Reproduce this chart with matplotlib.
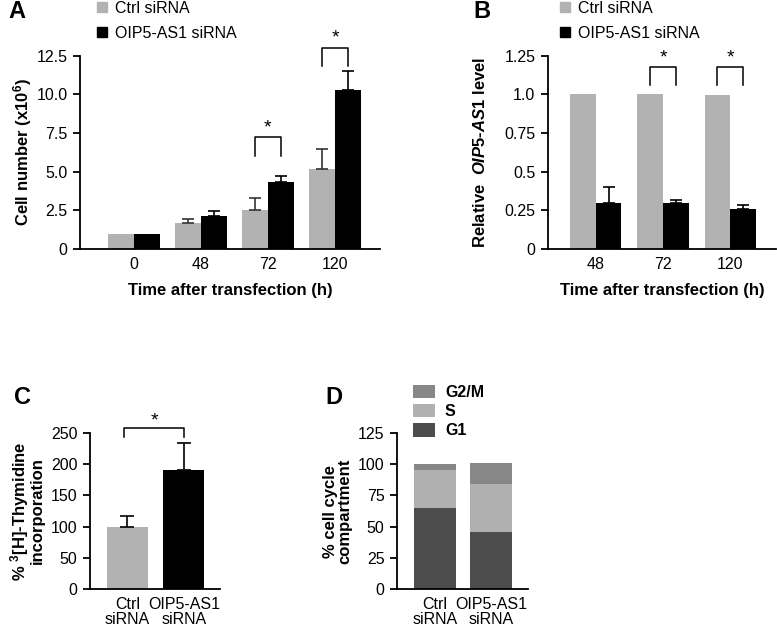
import numpy as np
import matplotlib
matplotlib.use('Agg')
import matplotlib.pyplot as plt
from matplotlib.patches import Patch

plt.rcParams['font.family'] = ['Liberation Sans', 'DejaVu Sans']
plt.rcParams['font.size'] = 11
plt.rcParams['mathtext.fontset'] = 'custom'
plt.rcParams['mathtext.rm'] = 'Liberation Sans'
plt.rcParams['mathtext.bf'] = 'Liberation Sans:bold'
plt.rcParams['mathtext.it'] = 'Liberation Sans:italic'
plt.rcParams['mathtext.bfit'] = 'Liberation Sans:bold:italic'

# ---- data ----
a_times = ['0', '48', '72', '120']
a_ctrl = [1.0, 1.65, 2.5, 5.2]
a_ctrl_err = [0.0, 0.3, 0.8, 1.25]
a_oip = [1.0, 2.15, 4.35, 10.25]
a_oip_err = [0.0, 0.3, 0.4, 1.25]

b_times = ['48', '72', '120']
b_ctrl = [1.0, 1.0, 0.995]
b_oip = [0.30, 0.30, 0.26]
b_oip_err = [0.10, 0.015, 0.025]

c_groups = ['Ctrl\nsiRNA', 'OIP5-AS1\nsiRNA']
c_values = [100, 191]
c_err = [17, 43]

d_groups = ['Ctrl\nsiRNA', 'OIP5-AS1\nsiRNA']
d_g1 = [65, 45.5]
d_s = [30, 39]
d_g2m = [5, 16.5]

GREY = '#b2b2b2'
W, H = 777, 626


def rect(l, t, r, b):
    return [l / W, 1 - b / H, (r - l) / W, (b - t) / H]


def style(ax):
    ax.spines['top'].set_visible(False)
    ax.spines['right'].set_visible(False)
    ax.spines['left'].set_linewidth(1.3)
    ax.spines['bottom'].set_linewidth(1.3)
    ax.tick_params(axis='y', direction='out', length=5, width=1.3, labelsize=11.5, pad=4)
    ax.tick_params(axis='x', length=0, labelsize=11.5, pad=6)


def up_err(ax, x, y, err, color, cap=4):
    x, y, err = np.asarray(x), np.asarray(y), np.asarray(err)
    m = err > 0
    ax.errorbar(x[m], y[m], yerr=[np.zeros(m.sum()), err[m]], fmt='none', ecolor=color,
                capsize=cap, elinewidth=1.2, capthick=1.2)


def bracket(ax, x1, x2, y_low, y_top, ystar):
    ax.plot([x1, x1, x2, x2], [y_low, y_top, y_top, y_low], color='black', lw=1.1, clip_on=False)
    ax.text((x1 + x2) / 2, ystar, '*', ha='center', va='center', fontsize=14, clip_on=False)


def legend2(ax, x0):
    ax.legend(handles=[Patch(color=GREY, label='Ctrl siRNA'), Patch(color='black', label='OIP5-AS1 siRNA')],
              loc='upper left', bbox_to_anchor=(x0 / W, 1 - 1 / H), bbox_transform=fig.transFigure,
              frameon=False, handlelength=0.6, handleheight=0.6, handletextpad=0.5, labelspacing=0.6,
              fontsize=11.5, borderaxespad=0, borderpad=0)


fig = plt.figure(figsize=(7.77, 6.26), dpi=100)

# ---- panel A ----
ax = fig.add_axes(rect(80, 55.7, 380, 249))
x = np.arange(len(a_times))
w = 0.39
ax.bar(x - w / 2, a_ctrl, w, color=GREY)
ax.bar(x + w / 2, a_oip, w, color='black')
up_err(ax, x - w / 2, a_ctrl, a_ctrl_err, '#333333')
up_err(ax, x + w / 2, a_oip, a_oip_err, 'black')
ax.set_xlim(-0.8, 3.67)
ax.set_ylim(0, 12.5)
ax.set_yticks([0, 2.5, 5, 7.5, 10, 12.5])
ax.set_yticklabels(['0', '2.5', '5.0', '7.5', '10.0', '12.5'])
ax.set_xticks(x)
ax.set_xticklabels(a_times)
ax.set_xlabel('Time after transfection (h)', fontweight='bold', fontsize=12, labelpad=8)
ax.set_ylabel('Cell number (x10$^\\mathbf{6}$)', fontweight='bold', fontsize=12, labelpad=2)
style(ax)
bracket(ax, 2 - w / 2, 2 + w / 2, 6.0, 7.25, 7.85)
bracket(ax, 3 - w / 2, 3 + w / 2, 11.85, 13.0, 13.65)
legend2(ax, 97)
fig.text(8 / W, 1 - 12 / H, 'A', fontsize=17, fontweight='bold', va='center')

# ---- panel B ----
ax = fig.add_axes(rect(548, 55.7, 776, 249))
x = np.arange(len(b_times))
w = 0.38
ax.bar(x - w / 2, b_ctrl, w, color=GREY)
ax.bar(x + w / 2, b_oip, w, color='black')
up_err(ax, x + w / 2, b_oip, b_oip_err, 'black')
ax.set_xlim(-0.71, 2.68)
ax.set_ylim(0, 1.25)
ax.set_yticks([0, 0.25, 0.5, 0.75, 1.0, 1.25])
ax.set_yticklabels(['0', '0.25', '0.5', '0.75', '1.0', '1.25'])
ax.set_xticks(x)
ax.set_xticklabels(b_times)
ax.set_xlabel('Time after transfection (h)', fontweight='bold', fontsize=12, labelpad=8)
ax.set_ylabel('Relative  $\\boldsymbol{OIP5}$-$\\boldsymbol{AS1}$ level', fontweight='bold', fontsize=12, labelpad=12)
style(ax)
bracket(ax, 1 - w / 2, 1 + w / 2, 1.06, 1.18, 1.235)
bracket(ax, 2 - w / 2, 2 + w / 2, 1.06, 1.18, 1.235)
legend2(ax, 560)
fig.text(473 / W, 1 - 12 / H, 'B', fontsize=17, fontweight='bold', va='center')

# ---- panel C ----
ax = fig.add_axes(rect(90, 433, 220, 589))
x = np.arange(len(c_groups))
w = 0.73
ax.bar(x, c_values, w, color=[GREY, 'black'])
up_err(ax, x, c_values, c_err, 'black', cap=5)
ax.set_xlim(-0.66, 1.64)
ax.set_ylim(0, 250)
ax.set_yticks([0, 50, 100, 150, 200, 250])
ax.set_xticks(x)
ax.set_xticklabels(c_groups, linespacing=1.0)
ax.set_ylabel('% $^\\mathbf{3}$[H]-Thymidine\nincorporation', fontweight='bold', fontsize=12, labelpad=4, linespacing=0.95)
style(ax)
bracket(ax, -0.05, 1.0, 243, 258, 270)
fig.text(14 / W, 1 - 397 / H, 'C', fontsize=17, fontweight='bold', va='center')

# ---- panel D ----
ax = fig.add_axes(rect(397, 433, 528, 589))
x = np.arange(len(d_groups))
w = 0.75
ax.bar(x, d_g1, w, color='#4d4d4d', label='G1')
ax.bar(x, d_s, w, bottom=d_g1, color='#b0b0b0', label='S')
ax.bar(x, d_g2m, w, bottom=np.add(d_g1, d_s), color='#878787', label='G2/M')
ax.set_xlim(-0.68, 1.66)
ax.set_ylim(0, 125)
ax.set_yticks([0, 25, 50, 75, 100, 125])
ax.set_xticks(x)
ax.set_xticklabels(d_groups, linespacing=1.0)
ax.set_ylabel('% cell cycle\ncompartment', fontweight='bold', fontsize=12, labelpad=4, linespacing=0.95)
style(ax)
h, l = ax.get_legend_handles_labels()
ax.legend(h[::-1], l[::-1], loc='upper left', bbox_to_anchor=(413 / W, 1 - 385 / H), bbox_transform=fig.transFigure,
          frameon=False, handlelength=1.4, handleheight=0.9, handletextpad=0.6, labelspacing=0.25,
          prop={'weight': 'bold', 'size': 11.5}, borderaxespad=0, borderpad=0)
fig.text(325 / W, 1 - 398 / H, 'D', fontsize=17, fontweight='bold', va='center')

fig.savefig('out.png', dpi=100)
